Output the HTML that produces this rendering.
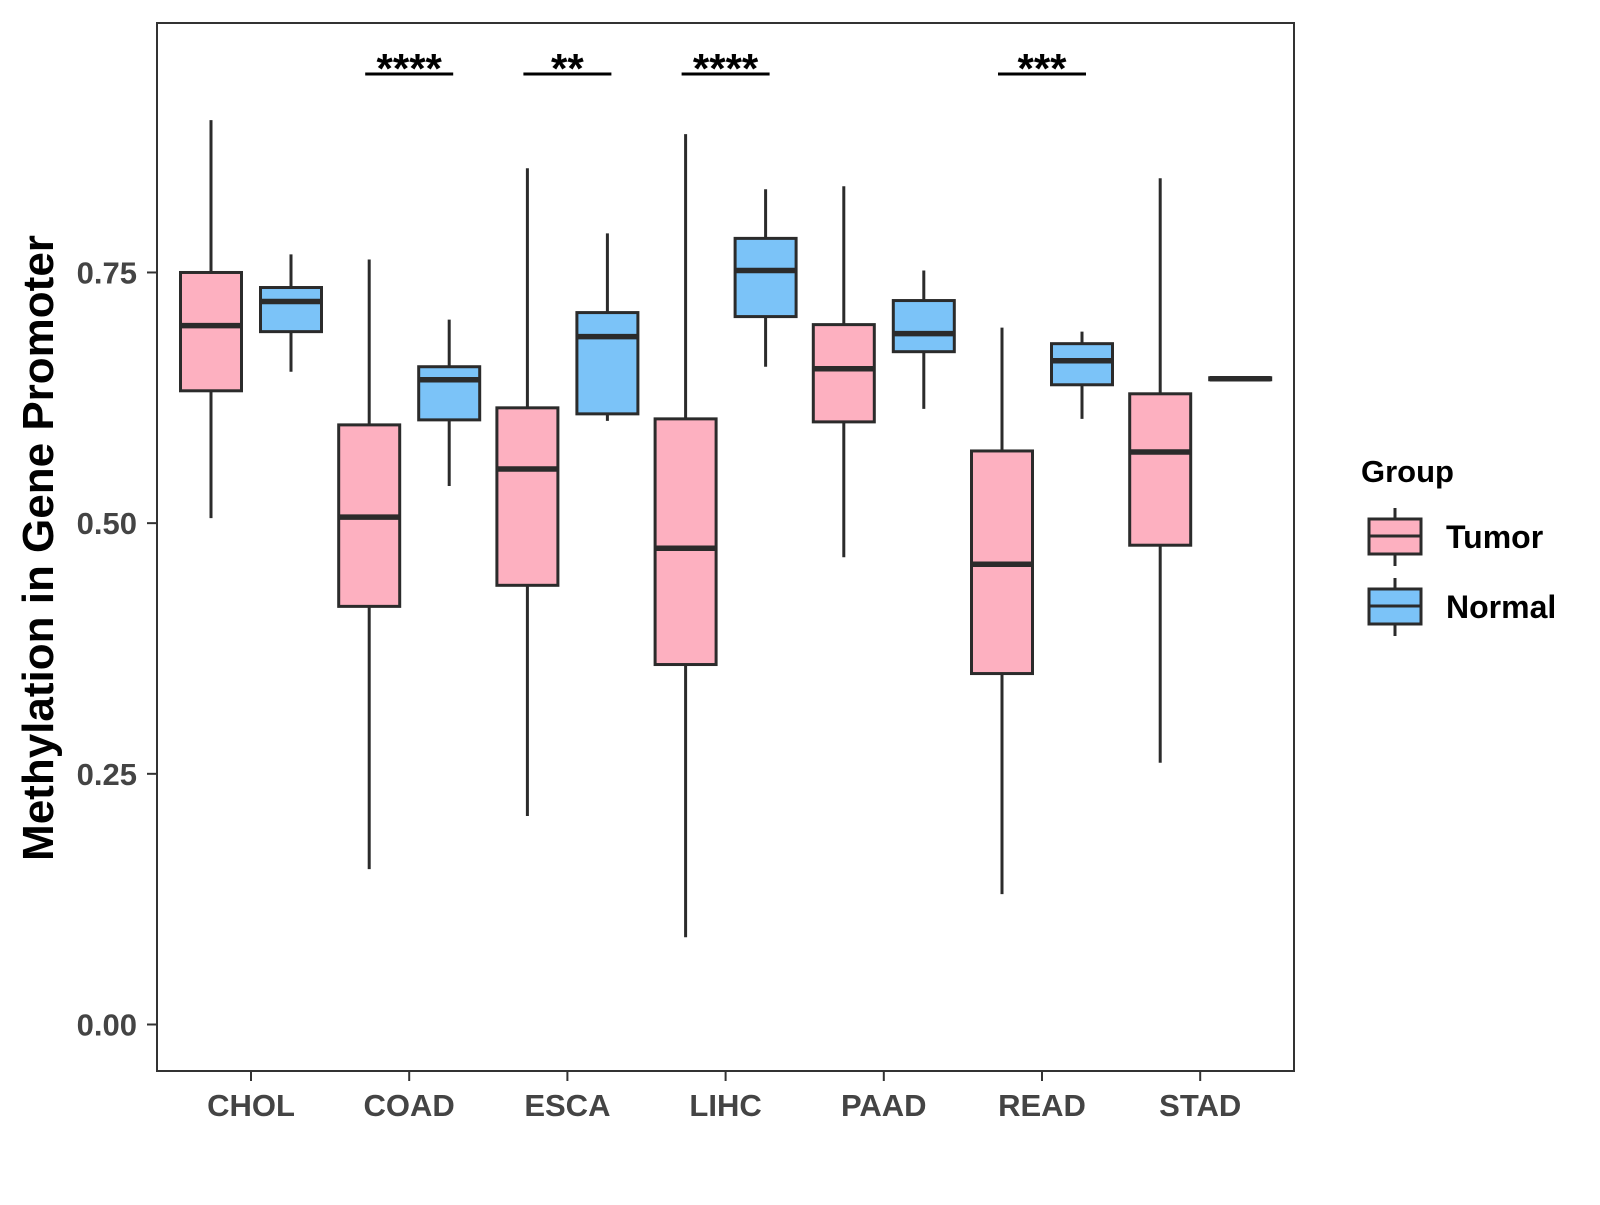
<!DOCTYPE html>
<html><head><meta charset="utf-8"><style>
body{margin:0;background:#fff}
svg text{font-family:"Liberation Sans",Arial,sans-serif;font-weight:bold}
</style></head><body>
<svg id="chart" width="1600" height="1200" viewBox="0 0 1600 1200">
<rect x="157" y="23" width="1137" height="1048" fill="#fff" stroke="#333" stroke-width="2"/>
<g id="ticks"></g><g id="boxes"></g><g id="sig"></g>
<text transform="translate(53,548) rotate(-90)" text-anchor="middle" font-size="44" fill="#000">Methylation in Gene Promoter</text>
<g>
<text x="1361" y="482" font-size="31" fill="#000">Group</text>
<g>
<line x1="1395" y1="508" x2="1395" y2="566" stroke="#2b2b2b" stroke-width="3"/>
<rect x="1369" y="519" width="52" height="35" fill="#FDB0C0" stroke="#2b2b2b" stroke-width="3"/>
<line x1="1369" y1="536" x2="1421" y2="536" stroke="#2b2b2b" stroke-width="3"/>
<text x="1446" y="548" font-size="32" fill="#000">Tumor</text></g>
<g>
<line x1="1395" y1="578" x2="1395" y2="636" stroke="#2b2b2b" stroke-width="3"/>
<rect x="1369" y="589" width="52" height="35" fill="#7BC3F8" stroke="#2b2b2b" stroke-width="3"/>
<line x1="1369" y1="606" x2="1421" y2="606" stroke="#2b2b2b" stroke-width="3"/>
<text x="1446" y="618" font-size="32" fill="#000">Normal</text></g>
</g>
</svg>
<script>
const categories=["CHOL","COAD","ESCA","LIHC","PAAD","READ","STAD"];
// [lower whisker, Q1, median, Q3, upper whisker]
const tumorStats=[[0.505,0.632,0.697,0.750,0.902],[0.155,0.417,0.506,0.598,0.763],[0.208,0.438,0.554,0.615,0.854],[0.087,0.359,0.475,0.604,0.888],[0.466,0.601,0.654,0.698,0.836],[0.130,0.350,0.459,0.572,0.695],[0.261,0.478,0.571,0.629,0.844]];
const normalStats=[[0.651,0.691,0.721,0.735,0.768],[0.537,0.603,0.643,0.656,0.703],[0.602,0.609,0.686,0.710,0.789],[0.656,0.706,0.752,0.784,0.833],[0.614,0.671,0.689,0.722,0.752],[0.604,0.638,0.662,0.679,0.691],[0.643,0.643,0.644,0.645,0.645]];
const yTicks=[0,0.25,0.5,0.75];
const yTickLabels=["0.00","0.25","0.50","0.75"];
const sigCategories=["COAD","ESCA","LIHC","READ"];
const sigLabels=["****","**","****","***"];
const sigLevel=0.948;

const NS="http://www.w3.org/2000/svg";
function y(v){return 1024.5-v*1002.7;}
function x(i){return 251+i*158.2;}
function mk(tag,attrs,parent){const e=document.createElementNS(NS,tag);for(const k in attrs)e.setAttribute(k,attrs[k]);parent.appendChild(e);return e;}
const ticks=document.getElementById('ticks'),boxes=document.getElementById('boxes'),sig=document.getElementById('sig');
yTicks.forEach((v,i)=>{
  const l=mk('line',{x1:147,x2:157,y1:y(v),y2:y(v),stroke:'#333','stroke-width':2},ticks);
  
  
  const t=mk('text',{x:137,y:y(v)+11,'text-anchor':'end','font-size':31,fill:'#444'},ticks);
  t.textContent=yTickLabels[i];
  
  
});
categories.forEach((c,i)=>{
  const l=mk('line',{x1:x(i),x2:x(i),y1:1071,y2:1081,stroke:'#333','stroke-width':2},ticks);
  
  
  const t=mk('text',{x:x(i),y:1116,'text-anchor':'middle','font-size':31,fill:'#444'},ticks);
  t.textContent=c;
  
  
});
function drawBox(s,cx,fill,name){
  const g=mk('g',{},boxes);
  
  
  const w=61;
  mk('line',{x1:cx,x2:cx,y1:y(s[4]),y2:y(s[0]),stroke:'#2b2b2b','stroke-width':3},g);
  mk('rect',{x:cx-w/2,y:y(s[3]),width:w,height:Math.max(0,y(s[1])-y(s[3])),fill:fill,stroke:'#2b2b2b','stroke-width':3},g);
  mk('line',{x1:cx-w/2,x2:cx+w/2,y1:y(s[2]),y2:y(s[2]),stroke:'#2b2b2b','stroke-width':5.5},g);
}
categories.forEach((c,i)=>{
  drawBox(tumorStats[i],x(i)-40,'#FDB0C0','box-tumor-'+c.toLowerCase());
  drawBox(normalStats[i],x(i)+40,'#7BC3F8','box-normal-'+c.toLowerCase());
});
sigCategories.forEach((c,k)=>{
  const i=categories.indexOf(c);
  const g=mk('g',{},sig);
  
  
  mk('line',{x1:x(i)-44,x2:x(i)+44,y1:y(sigLevel),y2:y(sigLevel),stroke:'#000','stroke-width':3},g);
  const t=mk('text',{x:x(i),y:y(sigLevel)+9,'text-anchor':'middle','font-size':42,fill:'#000'},g);
  t.textContent=sigLabels[k];
});
</script>
</body></html>
